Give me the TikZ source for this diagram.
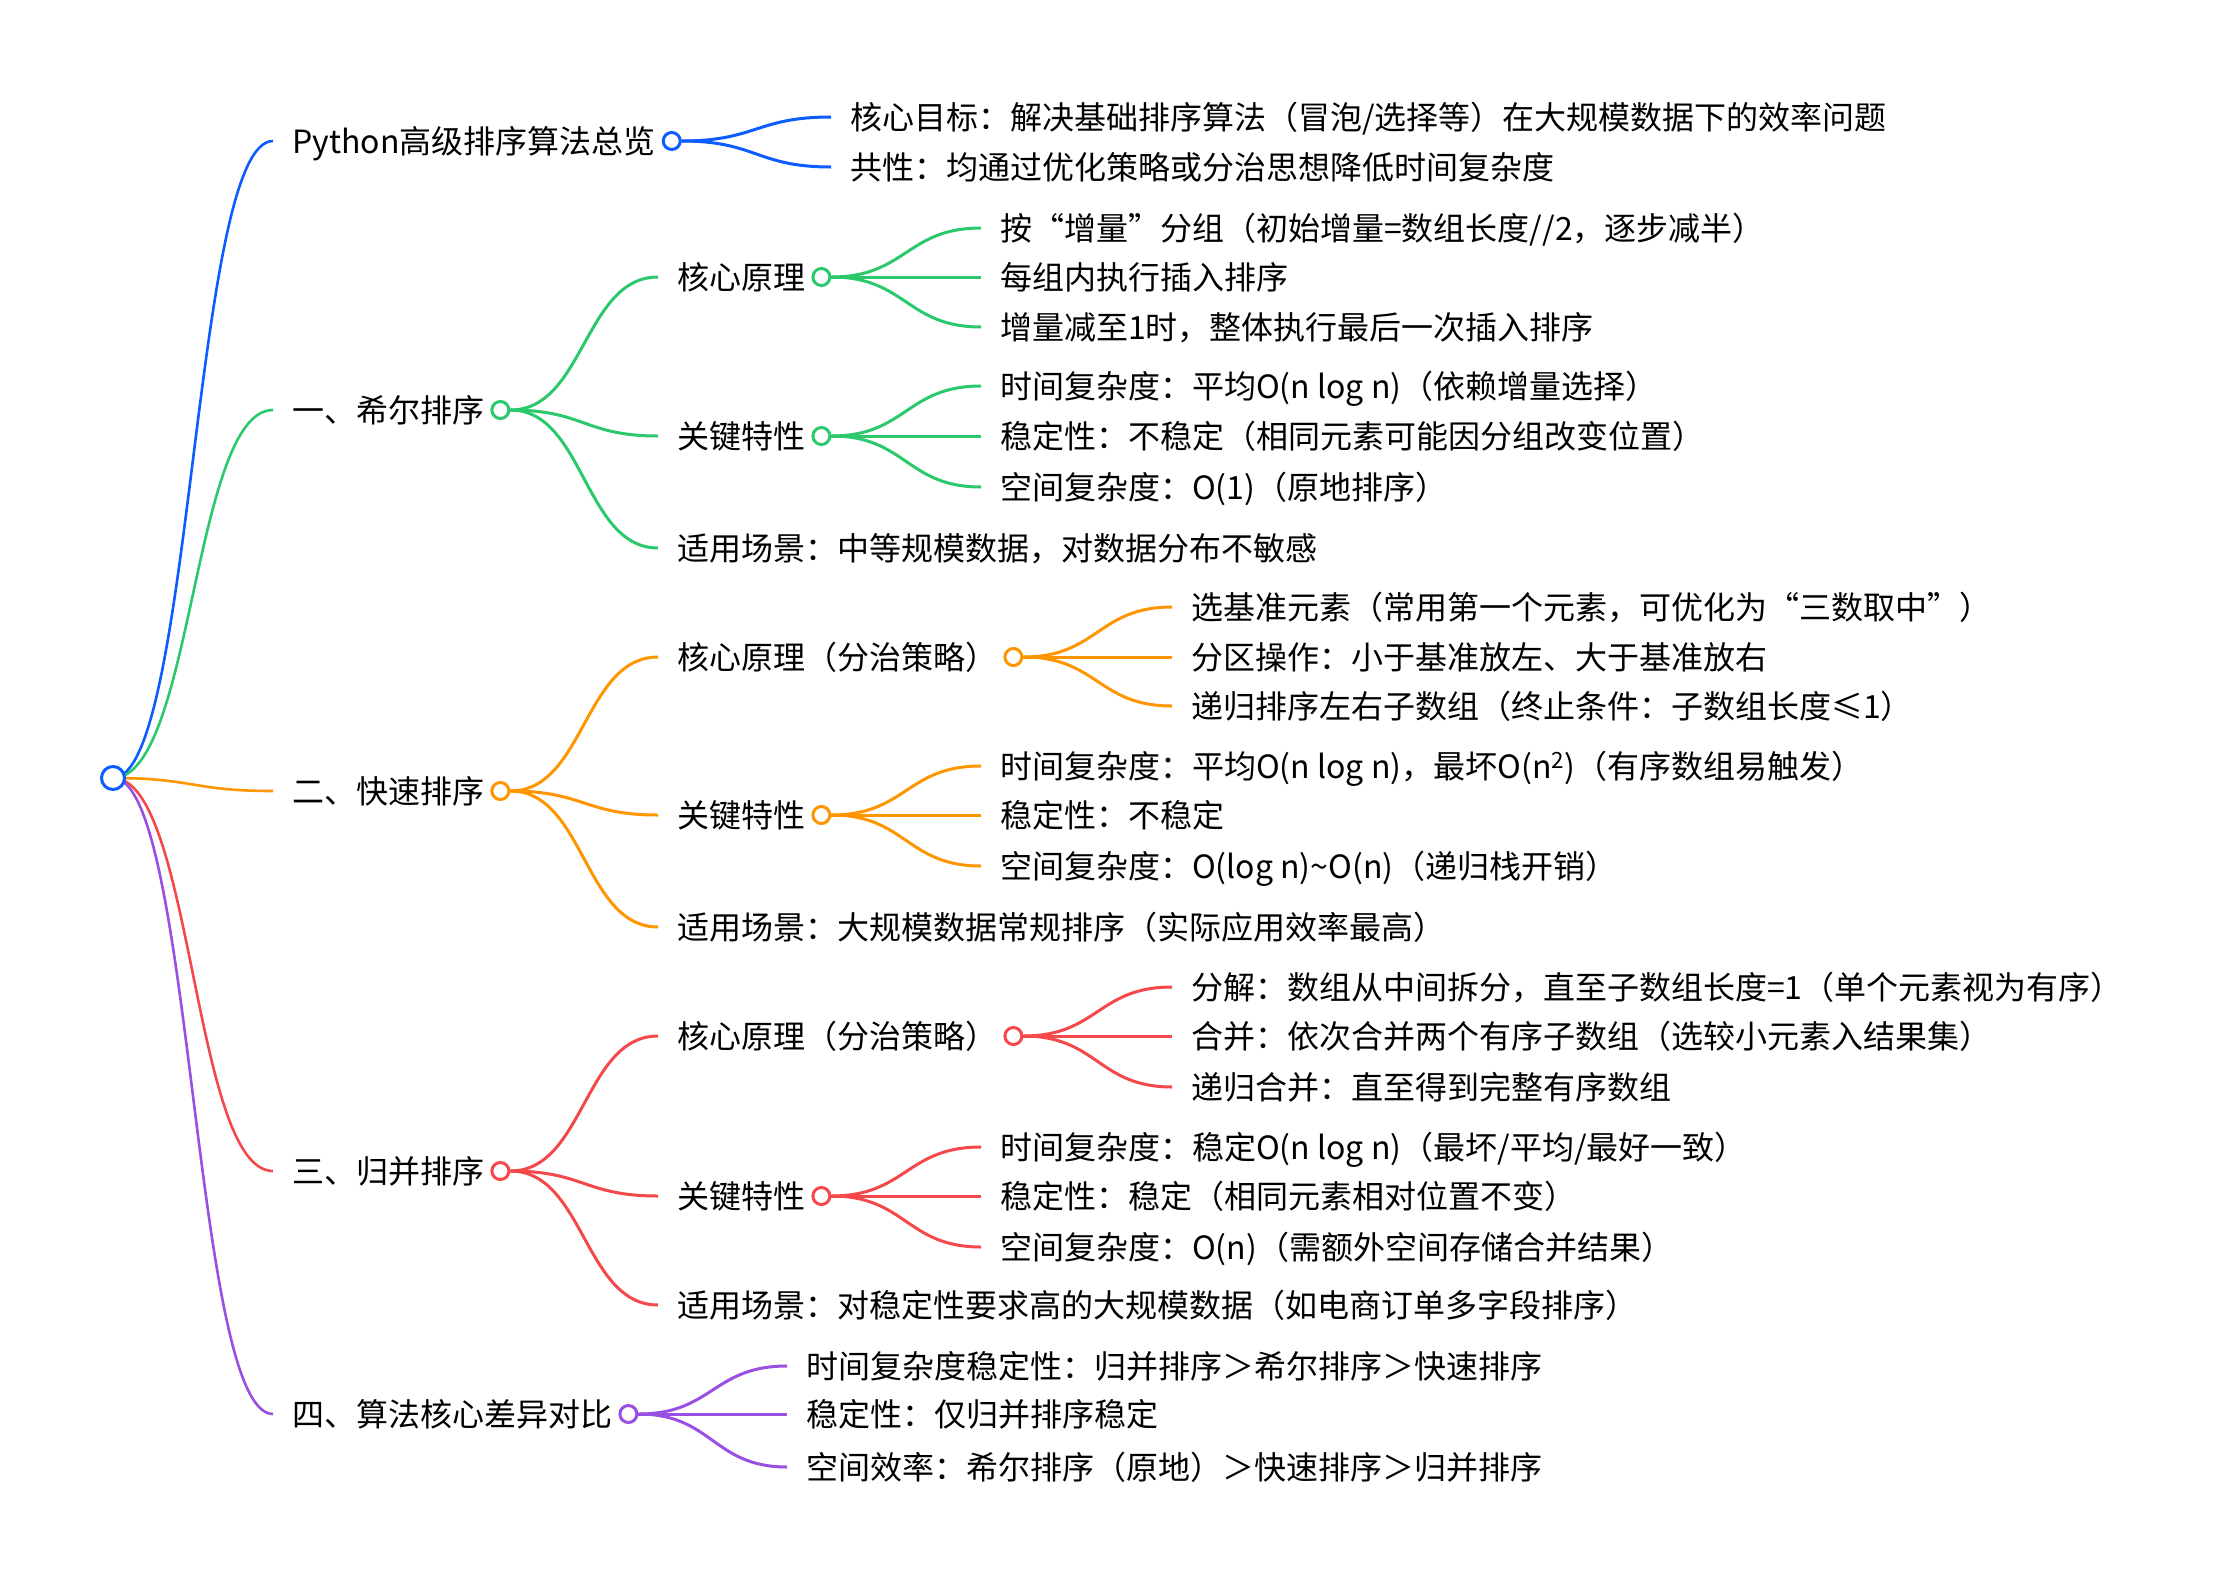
\documentclass[tikz,border=0pt]{standalone}
\usepackage{fontspec}
\setmainfont{Noto Sans CJK SC}
\usetikzlibrary{calc}
\definecolor{cblue}{HTML}{0C5CFF}
\definecolor{cgreen}{HTML}{2BC86C}
\definecolor{corange}{HTML}{FF9500}
\definecolor{cred}{HTML}{F5484B}
\definecolor{cpurple}{HTML}{9A4FE3}
\newcommand\mmfont{\fontsize{32}{38}\selectfont}
\tikzset{
  txt/.style={inner sep=0pt, anchor=base west, font=\mmfont, text=black},
  dot/.style={circle, fill=white, line width=3pt, minimum size=17pt, inner sep=0pt},
  rootdot/.style={circle, fill=white, line width=3pt, minimum size=23pt, inner sep=0pt},
  link/.style={line width=3pt},
  rootlink/.style={line width=2.6pt}
}
% name, x (line end), y, colour, text
\newcommand\mmnode[5]{%
  \coordinate (#1-in) at (#2,#3);
  \node[txt] (#1-t) at ({#2+19},{#3+12}) {#5};
  \node[dot, draw=#4] (#1) at ($(#1-t.base east)+(16,-12)$) {};
}
% name, x, y, text
\newcommand\mmleaf[4]{%
  \coordinate (#1-in) at (#2,#3);
  \node[txt] (#1-t) at ({#2+19},{#3+12}) {#4};
}
% style, from, to
\newcommand\mmlink[3]{%
  \draw[#1] let \p1=(#2), \p2=(#3) in
    (\p1) .. controls ({(\x1+\x2)/2},\y1) and ({(\x1+\x2)/2},\y2) .. (\p2);
}
\begin{document}
\begin{tikzpicture}[x=1pt,y=-1pt]
\fill[white] (0,0) rectangle (2220,1582);
\useasboundingbox (0,0) rectangle (2220,1582);

\coordinate (root) at (113,778);

% ---------- level 1 ----------
\mmnode{A}{273}{141}{cblue}{Python高级排序算法总览}
\mmnode{B}{273}{410}{cgreen}{一、希尔排序}
\mmnode{C}{273}{791}{corange}{二、快速排序}
\mmnode{D}{273}{1171}{cred}{三、归并排序}
\mmnode{E}{273}{1414}{cpurple}{四、算法核心差异对比}

% ---------- overview ----------
\mmleaf{A1}{831}{117}{核心目标：解决基础排序算法（冒泡/选择等）在大规模数据下的效率问题}
\mmleaf{A2}{831}{167}{共性：均通过优化策略或分治思想降低时间复杂度}

% ---------- shell sort ----------
\mmnode{B1}{658}{277}{cgreen}{核心原理}
\mmnode{B2}{658}{436}{cgreen}{关键特性}
\mmleaf{B3}{658}{548}{适用场景：中等规模数据，对数据分布不敏感}
\mmleaf{B11}{981}{228}{按“增量”分组（初始增量=数组长度//2，逐步减半）}
\mmleaf{B12}{981}{277}{每组内执行插入排序}
\mmleaf{B13}{981}{327}{增量减至1时，整体执行最后一次插入排序}
\mmleaf{B21}{981}{386}{时间复杂度：平均O(n log n)（依赖增量选择）}
\mmleaf{B22}{981}{436}{稳定性：不稳定（相同元素可能因分组改变位置）}
\mmleaf{B23}{981}{487}{空间复杂度：O(1)（原地排序）}

% ---------- quick sort ----------
\mmnode{C1}{658}{657}{corange}{核心原理（分治策略）}
\mmnode{C2}{658}{815}{corange}{关键特性}
\mmleaf{C3}{658}{927}{适用场景：大规模数据常规排序（实际应用效率最高）}
\mmleaf{C11}{1172}{607}{选基准元素（常用第一个元素，可优化为“三数取中”）}
\mmleaf{C12}{1172}{657}{分区操作：小于基准放左、大于基准放右}
\mmleaf{C13}{1172}{706}{递归排序左右子数组（终止条件：子数组长度≤1）}
\mmleaf{C21}{981}{766}{时间复杂度：平均O(n log n)，最坏O(n\textsuperscript{2})（有序数组易触发）}
\mmleaf{C22}{981}{815}{稳定性：不稳定}
\mmleaf{C23}{981}{866}{空间复杂度：O(log n)\textasciitilde O(n)（递归栈开销）}

% ---------- merge sort ----------
\mmnode{D1}{658}{1036}{cred}{核心原理（分治策略）}
\mmnode{D2}{658}{1196}{cred}{关键特性}
\mmleaf{D3}{658}{1305}{适用场景：对稳定性要求高的大规模数据（如电商订单多字段排序）}
\mmleaf{D11}{1172}{987}{分解：数组从中间拆分，直至子数组长度=1（单个元素视为有序）}
\mmleaf{D12}{1172}{1036}{合并：依次合并两个有序子数组（选较小元素入结果集）}
\mmleaf{D13}{1172}{1087}{递归合并：直至得到完整有序数组}
\mmleaf{D21}{981}{1147}{时间复杂度：稳定O(n log n)（最坏/平均/最好一致）}
\mmleaf{D22}{981}{1196}{稳定性：稳定（相同元素相对位置不变）}
\mmleaf{D23}{981}{1247}{空间复杂度：O(n)（需额外空间存储合并结果）}

% ---------- comparison ----------
\mmleaf{E1}{787}{1366}{时间复杂度稳定性：归并排序＞希尔排序＞快速排序}
\mmleaf{E2}{787}{1414}{稳定性：仅归并排序稳定}
\mmleaf{E3}{787}{1467}{空间效率：希尔排序（原地）＞快速排序＞归并排序}

% ---------- connectors ----------
\mmlink{rootlink,cblue}{root}{A-in}
\mmlink{rootlink,cgreen}{root}{B-in}
\mmlink{rootlink,corange}{root}{C-in}
\mmlink{rootlink,cred}{root}{D-in}
\mmlink{rootlink,cpurple}{root}{E-in}

\mmlink{link,cblue}{A.east}{A1-in}
\mmlink{link,cblue}{A.east}{A2-in}

\mmlink{link,cgreen}{B.east}{B1-in}
\mmlink{link,cgreen}{B.east}{B2-in}
\mmlink{link,cgreen}{B.east}{B3-in}
\mmlink{link,cgreen}{B1.east}{B11-in}
\mmlink{link,cgreen}{B1.east}{B12-in}
\mmlink{link,cgreen}{B1.east}{B13-in}
\mmlink{link,cgreen}{B2.east}{B21-in}
\mmlink{link,cgreen}{B2.east}{B22-in}
\mmlink{link,cgreen}{B2.east}{B23-in}

\mmlink{link,corange}{C.east}{C1-in}
\mmlink{link,corange}{C.east}{C2-in}
\mmlink{link,corange}{C.east}{C3-in}
\mmlink{link,corange}{C1.east}{C11-in}
\mmlink{link,corange}{C1.east}{C12-in}
\mmlink{link,corange}{C1.east}{C13-in}
\mmlink{link,corange}{C2.east}{C21-in}
\mmlink{link,corange}{C2.east}{C22-in}
\mmlink{link,corange}{C2.east}{C23-in}

\mmlink{link,cred}{D.east}{D1-in}
\mmlink{link,cred}{D.east}{D2-in}
\mmlink{link,cred}{D.east}{D3-in}
\mmlink{link,cred}{D1.east}{D11-in}
\mmlink{link,cred}{D1.east}{D12-in}
\mmlink{link,cred}{D1.east}{D13-in}
\mmlink{link,cred}{D2.east}{D21-in}
\mmlink{link,cred}{D2.east}{D22-in}
\mmlink{link,cred}{D2.east}{D23-in}

\mmlink{link,cpurple}{E.east}{E1-in}
\mmlink{link,cpurple}{E.east}{E2-in}
\mmlink{link,cpurple}{E.east}{E3-in}

\node[rootdot, draw=cblue] (rootc) at (root) {};
\end{tikzpicture}
\end{document}
